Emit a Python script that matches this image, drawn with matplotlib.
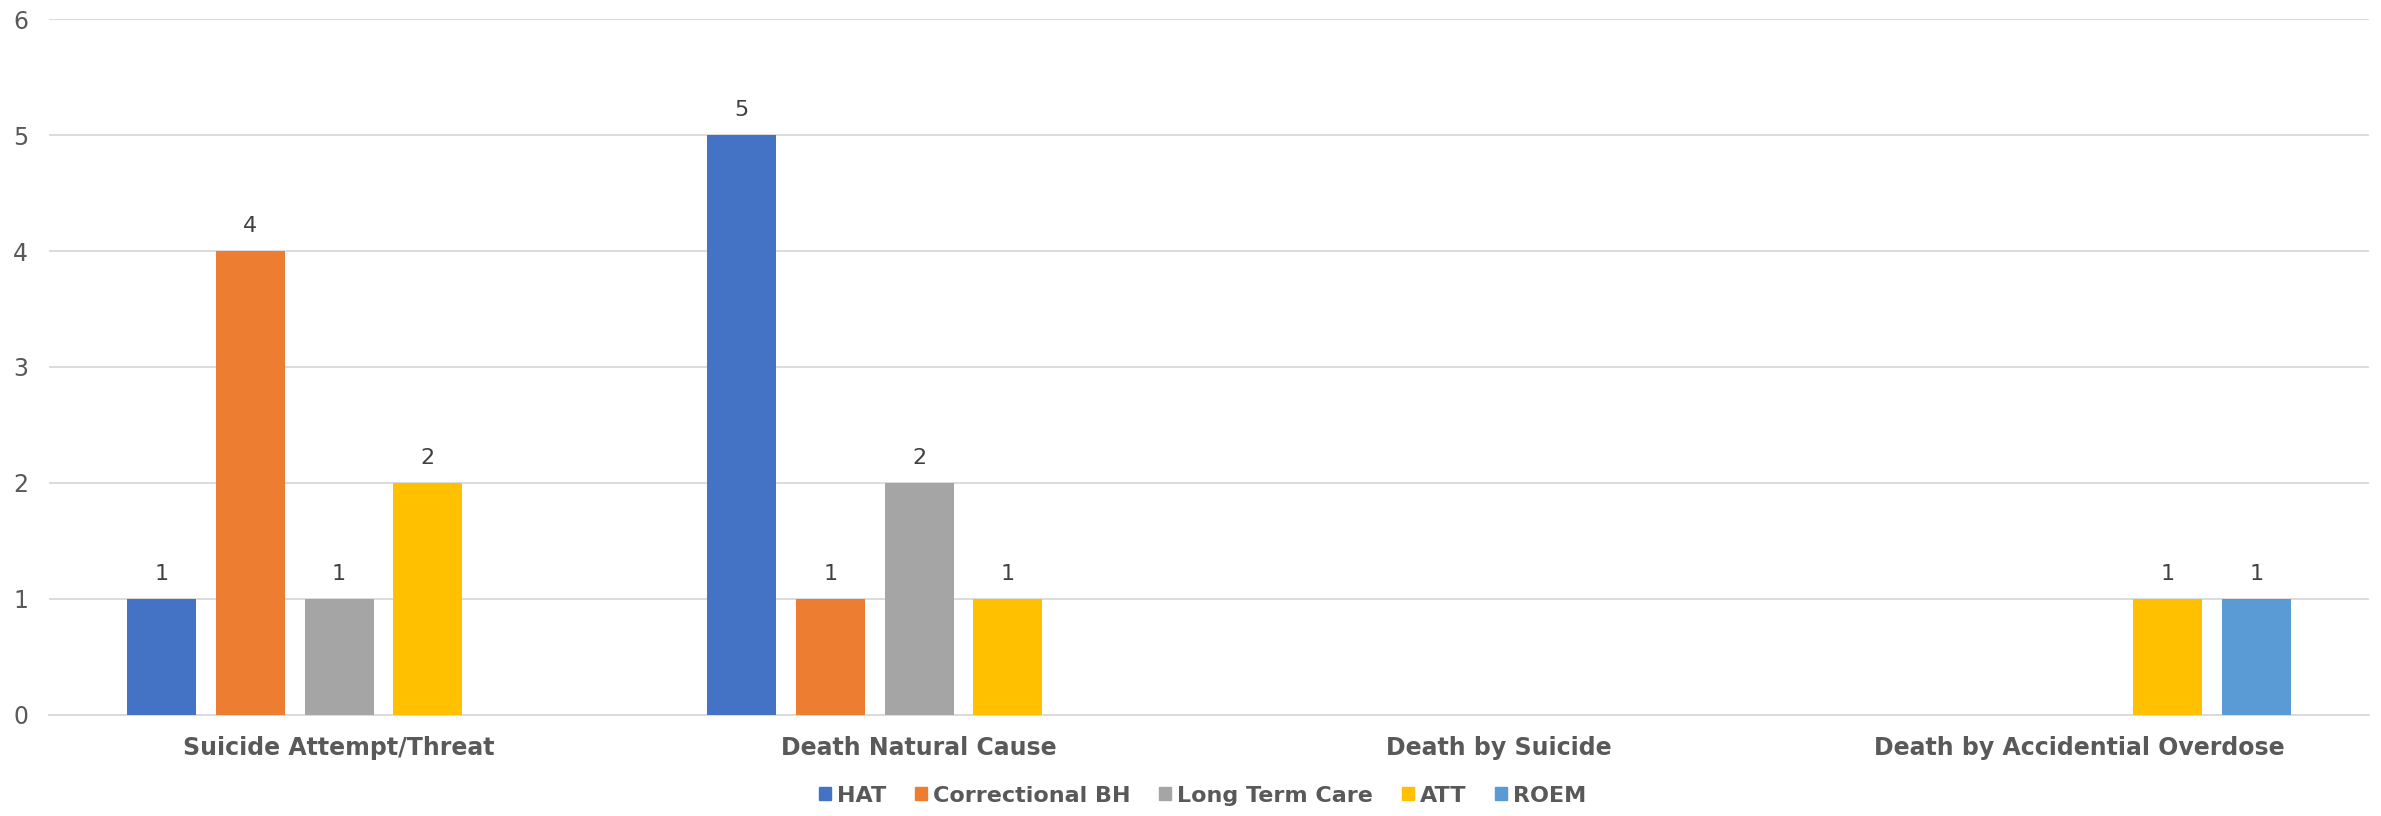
import numpy as np
import matplotlib
matplotlib.use("Agg")
import matplotlib.pyplot as plt
from matplotlib.patches import Patch

# incident counts by event type, one list per program
categories = ["Suicide Attempt/Threat", "Death Natural Cause",
              "Death by Suicide", "Death by Accidential Overdose"]
programs = ["HAT", "Correctional BH", "Long Term Care", "ATT", "ROEM"]
hat = [1, 5, None, None]
correctional_bh = [4, 1, None, None]
long_term_care = [1, 2, None, None]
att = [2, 1, None, 1]
roem = [None, None, None, 1]
colors = ["#4472C4", "#ED7D31", "#A5A5A5", "#FFC000", "#5B9BD5"]

series = [hat, correctional_bh, long_term_care, att, roem]

fig = plt.figure(figsize=(23.81, 8.16), dpi=100)
ax = fig.add_axes([0.0206, 0.1238, 0.9744, 0.8529])

x = np.arange(len(categories))
pitch, width = 0.153, 0.119
for i, (vals, col) in enumerate(zip(series, colors)):
    v = np.array([np.nan if a is None else a for a in vals], dtype=float)
    pos = x + (i - 2) * pitch
    ax.bar(pos, np.nan_to_num(v), width, color=col, zorder=3)
    for p, val in zip(pos, v):
        if not np.isnan(val):
            ax.annotate(f"{val:g}", (p, val), xytext=(0, 11),
                        textcoords="offset points", ha="center", va="bottom",
                        fontsize=16, color="#404040")

ax.set_xlim(-0.5, len(categories) - 0.5)
ax.set_ylim(0, 6)
ax.set_yticks(range(7))
ax.yaxis.grid(True, color="#D9D9D9", lw=1.3, zorder=0)
for s in ("top", "right", "left"):
    ax.spines[s].set_visible(False)
ax.spines["bottom"].set_color("#D9D9D9")
ax.spines["bottom"].set_linewidth(1.3)
ax.tick_params(axis="both", length=0)
ax.tick_params(axis="y", labelsize=17, labelcolor="#595959", pad=15)
ax.set_xticks(x)
ax.set_xticklabels(categories, fontsize=17, fontweight="bold", color="#595959")
ax.tick_params(axis="x", pad=15)

handles = [Patch(color=c, label=p) for p, c in zip(programs, colors)]
leg = fig.legend(handles=handles, loc="center", bbox_to_anchor=(0.505, 0.025),
                 ncol=5, frameon=False, handlelength=0.55, handleheight=0.55,
                 handletextpad=0.25, columnspacing=1.3,
                 prop={"size": 16, "weight": "bold"})
for t in leg.get_texts():
    t.set_color("#595959")

fig.savefig("out.png", dpi=100)
